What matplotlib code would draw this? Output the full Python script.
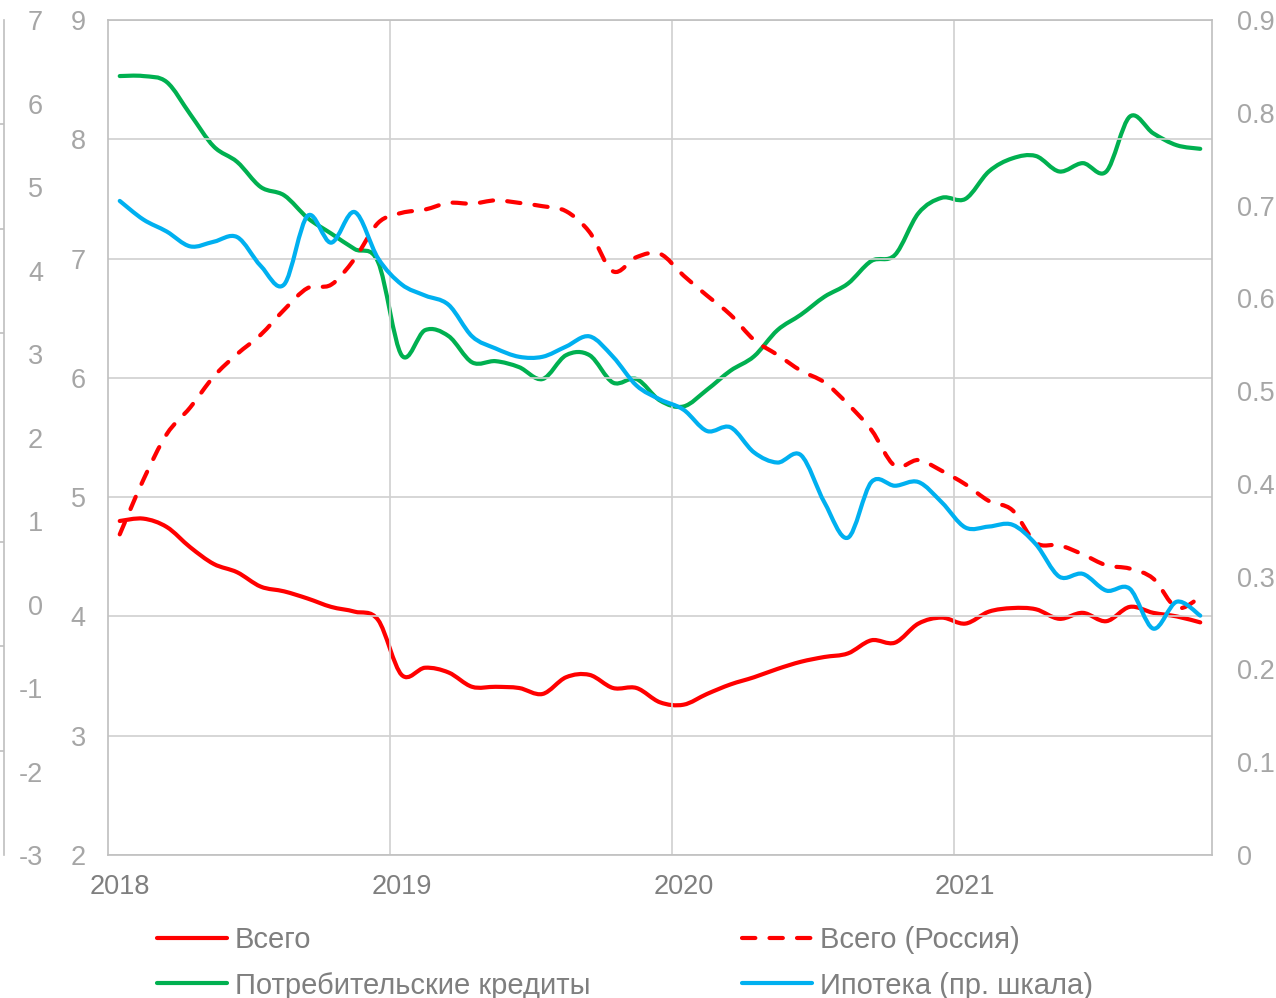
import matplotlib
matplotlib.use("Agg")
import matplotlib.pyplot as plt
import numpy as np
from matplotlib.lines import Line2D
from matplotlib.patches import PathPatch
from matplotlib.path import Path

plt.rcParams["font.family"] = ["Liberation Sans", "DejaVu Sans"]
plt.rcParams["axes.unicode_minus"] = False

# monthly data, Jan 2018 .. Nov 2021
years = ["2018", "2019", "2020", "2021"]
year_start = [0, 12, 24, 36]

# "Всего" (inner left axis, 2..9)
total = [4.80, 4.82, 4.75, 4.58, 4.44, 4.37, 4.25, 4.21, 4.15, 4.08, 4.04, 3.97,
         3.51, 3.57, 3.53, 3.41, 3.41, 3.40, 3.35, 3.49, 3.51, 3.40, 3.40, 3.28,
         3.26, 3.35, 3.43, 3.49, 3.56, 3.62, 3.66, 3.69, 3.80, 3.78, 3.94, 3.99,
         3.94, 4.04, 4.07, 4.06, 3.98, 4.03, 3.96, 4.08, 4.03, 4.00, 3.95]

# "Потребительские кредиты" (inner left axis, 2..9)
consumer = [8.53, 8.53, 8.48, 8.21, 7.94, 7.81, 7.60, 7.53, 7.34, 7.21, 7.08, 6.97,
            6.19, 6.40, 6.35, 6.13, 6.14, 6.09, 5.99, 6.19, 6.19, 5.96, 5.99, 5.81,
            5.76, 5.90, 6.06, 6.18, 6.40, 6.53, 6.68, 6.79, 6.98, 7.03, 7.38, 7.51,
            7.50, 7.73, 7.84, 7.86, 7.73, 7.80, 7.73, 8.19, 8.05, 7.95, 7.92]

# "Всего (Россия)" (outer left axis, -3..7)
russia = [0.84, 1.49, 2.04, 2.36, 2.73, 3.00, 3.23, 3.53, 3.79, 3.83, 4.14, 4.57,
          4.69, 4.73, 4.81, 4.80, 4.84, 4.81, 4.77, 4.71, 4.46, 3.99, 4.16, 4.20,
          3.94, 3.70, 3.47, 3.17, 2.99, 2.80, 2.66, 2.40, 2.09, 1.66, 1.73, 1.60,
          1.44, 1.24, 1.13, 0.74, 0.71, 0.60, 0.47, 0.43, 0.31, -0.04, 0.09]

# "Ипотека (пр. шкала)" (right axis, 0..0.9)
mortgage = [0.705, 0.685, 0.672, 0.656, 0.661, 0.666, 0.635, 0.615, 0.689, 0.660, 0.693, 0.643,
            0.615, 0.603, 0.593, 0.559, 0.546, 0.537, 0.537, 0.548, 0.559, 0.537, 0.506, 0.491,
            0.480, 0.457, 0.461, 0.434, 0.423, 0.431, 0.380, 0.342, 0.402, 0.398, 0.402, 0.380,
            0.353, 0.354, 0.356, 0.335, 0.300, 0.303, 0.285, 0.287, 0.244, 0.273, 0.258]

RED = "#FF0000"
GREEN = "#00B050"
BLUE = "#00B0F0"
GRID = "#D0D0D0"
TICK = "#A6A6A6"
TEXT = "#7F7F7F"
LW = 3.0
DASH = (0, (3.2, 3.4))
FS = 19.5

W, H = 1276, 998


def smooth_path(y):
    """Excel-like smoothed line: Catmull-Rom segments as cubic Beziers."""
    pts = np.column_stack([np.arange(len(y)), y]).astype(float)
    n = len(pts)
    verts = [pts[0]]
    codes = [Path.MOVETO]
    for i in range(n - 1):
        p0 = pts[max(i - 1, 0)]
        p1 = pts[i]
        p2 = pts[i + 1]
        p3 = pts[min(i + 2, n - 1)]
        verts += [p1 + (p2 - p0) / 6.0, p2 - (p3 - p1) / 6.0, p2]
        codes += [Path.CURVE4] * 3
    return Path(verts, codes)


def draw(ax, y, color, ls="-"):
    patch = PathPatch(smooth_path(y), fill=False, edgecolor=color, lw=LW,
                      linestyle=ls, capstyle="round", joinstyle="round")
    ax.add_patch(patch)


fig = plt.figure(figsize=(W / 100, H / 100), dpi=100)
ax = fig.add_axes([108 / W, 1 - 855 / H, 1104 / W, 835 / H])
ax.set_xlim(-0.5, len(total) - 0.5)
ax.set_ylim(2, 9)
ax.set_yticks(range(2, 10))
ax.set_xticks(year_start)
ax.set_xticklabels(years)
ax.set_xticks([s - 0.5 for s in year_start[1:]], minor=True)
ax.grid(axis="y", which="major", color=GRID, lw=1.2)
ax.grid(axis="x", which="minor", color=GRID, lw=1.2)
ax.grid(axis="x", which="major", visible=False)
ax.tick_params(axis="x", which="both", length=0, pad=14, labelsize=FS, labelcolor=TEXT)
ax.tick_params(axis="y", length=0, pad=16, labelsize=FS, labelcolor=TICK)
for s in ax.spines.values():
    s.set_color("#BFBFBF")
    s.set_linewidth(1.2)

draw(ax, total, RED)
draw(ax, consumer, GREEN)

# outer left axis
axo = ax.twinx()
axo.set_ylim(-3, 7)
axo.yaxis.tick_left()
axo.spines["left"].set_position(("axes", -104 / 1104))
axo.spines["left"].set_color("#BFBFBF")
axo.spines["left"].set_linewidth(1.2)
for k in ["right", "top", "bottom"]:
    axo.spines[k].set_visible(False)
axo.set_yticks(range(-3, 8))
axo.set_yticks(np.linspace(-3, 7, 9), minor=True)
axo.tick_params(axis="y", which="major", length=0, pad=-28, labelsize=FS, labelcolor=TICK)
axo.tick_params(axis="y", which="minor", length=3, width=1.2, color="#BFBFBF", direction="out")
draw(axo, russia, RED, DASH)

# right axis
axr = ax.twinx()
axr.set_ylim(0, 0.9)
rticks = np.round(np.arange(0, 0.91, 0.1), 1)
axr.set_yticks(rticks)
axr.set_yticklabels(["0"] + [f"{v:.1f}" for v in rticks[1:]])
axr.tick_params(axis="y", length=0, pad=18, labelsize=FS, labelcolor=TICK)
for s in axr.spines.values():
    s.set_visible(False)
draw(axr, mortgage, BLUE)

handles = [
    Line2D([], [], color=RED, lw=LW, solid_capstyle="round"),
    Line2D([], [], color=GREEN, lw=LW, solid_capstyle="round"),
    Line2D([], [], color=RED, lw=LW, linestyle=DASH, dash_capstyle="round"),
    Line2D([], [], color=BLUE, lw=LW, solid_capstyle="round"),
]
labels = ["Всего", "Потребительские кредиты", "Всего (Россия)", "Ипотека (пр. шкала)"]
fig.legend(handles, labels, loc="upper left", bbox_to_anchor=(157 / W, 1 - 926 / H),
           ncol=2, frameon=False, fontsize=21, labelcolor=TEXT, handlelength=2.4,
           handletextpad=0.27, columnspacing=5.2, labelspacing=0.6,
           borderpad=0, borderaxespad=0)

fig.savefig("out.png", dpi=100)
